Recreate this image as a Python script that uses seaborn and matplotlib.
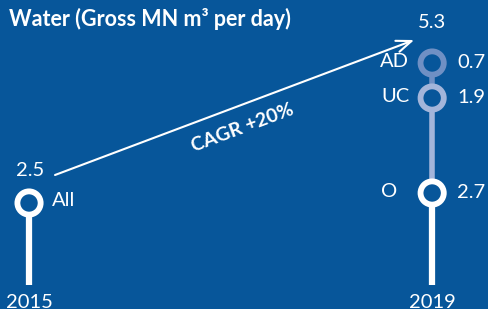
import matplotlib
matplotlib.use("Agg")
import matplotlib.pyplot as plt
import matplotlib.transforms as mtransforms
import pandas as pd
import seaborn as sns

# data
years = ["2015", "2019"]
total_2015 = 2.5
segments_2019 = ["O", "UC", "AD"]
values_2019 = [2.7, 1.9, 0.7]
cagr_text = "CAGR +20%"
title = "Water (Gross MN m³ per day)"

BG = "#07569a"
WHITE = "#ffffff"
LIGHT = "#a3b5da"
MID = "#6f90c4"
seg_colors = [WHITE, LIGHT, MID]
BASE = 0.86  # bottom end of the stems

sns.set_theme(style="white")
plt.rcParams["font.family"] = ["Lato", "DejaVu Sans"]

fig = plt.figure(figsize=(4.89, 3.09), dpi=100, facecolor=BG)
ax = fig.add_axes([0, 0, 1, 1])
ax.set_facecolor(BG)
ax.set_xlim(-0.072, 1.141)
ax.set_ylim(0.38, 6.56)
ax.axis("off")

# cumulative positions for 2019
tops = []
run = 0
for v in values_2019:
    run += v
    tops.append(run)
bottoms = [BASE] + tops[:-1]

# stems
ax.vlines(0, BASE, total_2015, color=WHITE, lw=4.5, zorder=1)
for b, t, c in zip(bottoms, tops, seg_colors):
    ax.vlines(1, b, t, color=c, lw=4.5 if c == WHITE else 4, zorder=1)

pts = pd.DataFrame({
    "x": [0] + [1] * len(segments_2019),
    "y": [total_2015] + tops,
    "name": ["All"] + segments_2019,
})
pal = {"All": WHITE, "O": WHITE, "UC": LIGHT, "AD": MID}
sns.scatterplot(data=pts, x="x", y="y", hue="name", palette=pal, ax=ax,
                s=280, facecolor=BG, linewidth=4.2, legend=False, zorder=3)
# fill the ring interiors with background colour
for coll in ax.collections:
    if hasattr(coll, "get_offsets") and len(coll.get_offsets()) == len(pts):
        coll.set_edgecolor([pal[n] for n in pts["name"]])
        coll.set_facecolor(BG)

txt = dict(color=WHITE, fontsize=14.5, fontweight="normal", va="center")

def lab(s, x, y, dx, dy, ha):
    ax.annotate(s, (x, y), xytext=(dx, dy), textcoords="offset pixels",
                ha=ha, **txt)

# 2015 labels
lab(f"{total_2015}", 0, total_2015, 1, 32, "center")
lab("All", 0, total_2015, 23, 2, "left")
lab(years[0], 0, BASE, 0, -17, "center")

# 2019 labels
name_dx = {"O": -35, "UC": -23, "AD": -23}
for name, top, v in zip(segments_2019, tops, values_2019):
    lab(name, 1, top, name_dx[name], 1, "right")
    lab(f"{v}", 1, top, 25, 0, "left")
lab(f"{tops[-1]}", 1, tops[-1], 0, 40, "center")
lab(years[1], 1, BASE, 0, -17, "center")

# CAGR arrow
start_tr = mtransforms.offset_copy(ax.transData, fig=fig, x=26, y=28, units="dots")
end_tr = mtransforms.offset_copy(ax.transData, fig=fig, x=-18, y=23, units="dots")
ax.annotate("", xy=(1, tops[-1]), xycoords=end_tr,
            xytext=(0, total_2015), textcoords=start_tr,
            arrowprops=dict(arrowstyle="->,head_length=0.9,head_width=0.35",
                            color=WHITE, lw=1.5, shrinkA=0, shrinkB=0))
ax.text(0.497, 0.585, cagr_text, transform=ax.transAxes, color=WHITE,
        fontsize=14, fontweight="bold", rotation=20.6,
        rotation_mode="anchor", ha="center", va="center")

fig.text(9 / 489, 1 - 19 / 309, title, color=WHITE, fontsize=15.5,
         fontweight="bold", ha="left", va="center")

fig.savefig("out.png", dpi=100, facecolor=BG)
